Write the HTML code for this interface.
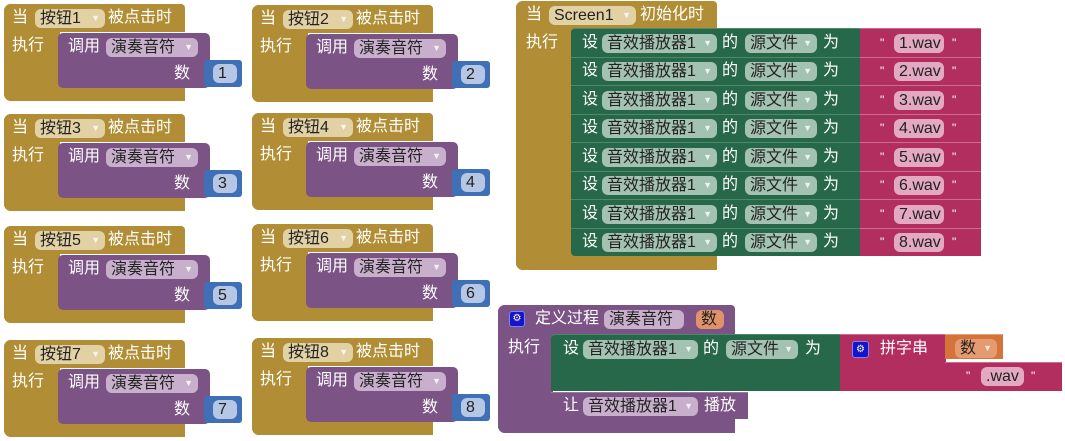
<!DOCTYPE html>
<html><head><meta charset="utf-8"><style>
*{box-sizing:border-box;margin:0;padding:0}
body{width:1065px;height:441px;background:#fff;position:relative;overflow:hidden;font-family:"Liberation Sans","Noto Sans CJK SC",sans-serif;font-size:16px;color:#fff}
.a{position:absolute}
.ev{position:absolute;width:240px;height:100px}
.g{background:#b18e35;position:absolute}
.p{background:#7c5385;position:absolute}
.t{position:absolute;white-space:nowrap;line-height:20px;font-weight:normal}
.pill{position:absolute;border-radius:6px;color:#222;line-height:19px;height:19px;padding-left:5px;white-space:nowrap;font-weight:normal}
.pill i{font-style:normal;font-size:9px;color:#fff;opacity:.8;position:absolute;right:5px;top:0}
.pg{background:#e3d1a6}
.pp{background:#c8b0cc}
.pb{background:#b5c7e5}
.pgr{background:#a3c2b1}
.pk{background:#e3a9c2}
.bl{background:#3f6fb5;position:absolute;border-radius:3px}
.gr{background:#27684a;position:absolute;border-top:1px solid #4c8a6a}
.pkb{background:#b12e5e;position:absolute;border-top:1px solid #cf6a8f}
</style></head><body>

<div class="ev" style="left:4px;top:4px">
<div class="g" style="left:0;top:0;width:181px;height:28px;border-radius:7px 4px 0 0"></div>
<div class="g" style="left:0;top:0;width:56px;height:97px;border-radius:7px 0 0 7px"></div>
<div class="g" style="left:0;top:82px;width:181px;height:15px;border-radius:0 0 0 7px"></div>
<div class="p" style="left:54px;top:29px;width:152px;height:55px;border-radius:5px"></div>
<div class="t" style="left:8px;top:4px">当</div><div class="pill pg" style="left:31px;top:5px;width:70px">按钮1<i>▼</i></div><div class="t" style="left:104px;top:4px">被点击时</div>
<div class="t" style="left:8px;top:32px">执行</div>
<div class="t" style="left:64px;top:33px">调用</div><div class="pill pp" style="left:102px;top:34px;width:92px">演奏音符<i>▼</i></div>
<div class="t" style="left:170px;top:60px">数</div>
<div class="bl" style="left:200px;top:56px;width:38px;height:27px"></div><div class="pill pb" style="left:209px;top:60px;width:24px">1</div>
</div>

<div class="ev" style="left:252px;top:5px">
<div class="g" style="left:0;top:0;width:181px;height:28px;border-radius:7px 4px 0 0"></div>
<div class="g" style="left:0;top:0;width:56px;height:97px;border-radius:7px 0 0 7px"></div>
<div class="g" style="left:0;top:82px;width:181px;height:15px;border-radius:0 0 0 7px"></div>
<div class="p" style="left:54px;top:29px;width:152px;height:55px;border-radius:5px"></div>
<div class="t" style="left:8px;top:4px">当</div><div class="pill pg" style="left:31px;top:5px;width:70px">按钮2<i>▼</i></div><div class="t" style="left:104px;top:4px">被点击时</div>
<div class="t" style="left:8px;top:32px">执行</div>
<div class="t" style="left:64px;top:33px">调用</div><div class="pill pp" style="left:102px;top:34px;width:92px">演奏音符<i>▼</i></div>
<div class="t" style="left:170px;top:60px">数</div>
<div class="bl" style="left:200px;top:56px;width:38px;height:27px"></div><div class="pill pb" style="left:209px;top:60px;width:24px">2</div>
</div>

<div class="ev" style="left:4px;top:114px">
<div class="g" style="left:0;top:0;width:181px;height:28px;border-radius:7px 4px 0 0"></div>
<div class="g" style="left:0;top:0;width:56px;height:97px;border-radius:7px 0 0 7px"></div>
<div class="g" style="left:0;top:82px;width:181px;height:15px;border-radius:0 0 0 7px"></div>
<div class="p" style="left:54px;top:29px;width:152px;height:55px;border-radius:5px"></div>
<div class="t" style="left:8px;top:4px">当</div><div class="pill pg" style="left:31px;top:5px;width:70px">按钮3<i>▼</i></div><div class="t" style="left:104px;top:4px">被点击时</div>
<div class="t" style="left:8px;top:32px">执行</div>
<div class="t" style="left:64px;top:33px">调用</div><div class="pill pp" style="left:102px;top:34px;width:92px">演奏音符<i>▼</i></div>
<div class="t" style="left:170px;top:60px">数</div>
<div class="bl" style="left:200px;top:56px;width:38px;height:27px"></div><div class="pill pb" style="left:209px;top:60px;width:24px">3</div>
</div>

<div class="ev" style="left:252px;top:113px">
<div class="g" style="left:0;top:0;width:181px;height:28px;border-radius:7px 4px 0 0"></div>
<div class="g" style="left:0;top:0;width:56px;height:97px;border-radius:7px 0 0 7px"></div>
<div class="g" style="left:0;top:82px;width:181px;height:15px;border-radius:0 0 0 7px"></div>
<div class="p" style="left:54px;top:29px;width:152px;height:55px;border-radius:5px"></div>
<div class="t" style="left:8px;top:4px">当</div><div class="pill pg" style="left:31px;top:5px;width:70px">按钮4<i>▼</i></div><div class="t" style="left:104px;top:4px">被点击时</div>
<div class="t" style="left:8px;top:32px">执行</div>
<div class="t" style="left:64px;top:33px">调用</div><div class="pill pp" style="left:102px;top:34px;width:92px">演奏音符<i>▼</i></div>
<div class="t" style="left:170px;top:60px">数</div>
<div class="bl" style="left:200px;top:56px;width:38px;height:27px"></div><div class="pill pb" style="left:209px;top:60px;width:24px">4</div>
</div>

<div class="ev" style="left:4px;top:226px">
<div class="g" style="left:0;top:0;width:181px;height:28px;border-radius:7px 4px 0 0"></div>
<div class="g" style="left:0;top:0;width:56px;height:97px;border-radius:7px 0 0 7px"></div>
<div class="g" style="left:0;top:82px;width:181px;height:15px;border-radius:0 0 0 7px"></div>
<div class="p" style="left:54px;top:29px;width:152px;height:55px;border-radius:5px"></div>
<div class="t" style="left:8px;top:4px">当</div><div class="pill pg" style="left:31px;top:5px;width:70px">按钮5<i>▼</i></div><div class="t" style="left:104px;top:4px">被点击时</div>
<div class="t" style="left:8px;top:32px">执行</div>
<div class="t" style="left:64px;top:33px">调用</div><div class="pill pp" style="left:102px;top:34px;width:92px">演奏音符<i>▼</i></div>
<div class="t" style="left:170px;top:60px">数</div>
<div class="bl" style="left:200px;top:56px;width:38px;height:27px"></div><div class="pill pb" style="left:209px;top:60px;width:24px">5</div>
</div>

<div class="ev" style="left:252px;top:224px">
<div class="g" style="left:0;top:0;width:181px;height:28px;border-radius:7px 4px 0 0"></div>
<div class="g" style="left:0;top:0;width:56px;height:97px;border-radius:7px 0 0 7px"></div>
<div class="g" style="left:0;top:82px;width:181px;height:15px;border-radius:0 0 0 7px"></div>
<div class="p" style="left:54px;top:29px;width:152px;height:55px;border-radius:5px"></div>
<div class="t" style="left:8px;top:4px">当</div><div class="pill pg" style="left:31px;top:5px;width:70px">按钮6<i>▼</i></div><div class="t" style="left:104px;top:4px">被点击时</div>
<div class="t" style="left:8px;top:32px">执行</div>
<div class="t" style="left:64px;top:33px">调用</div><div class="pill pp" style="left:102px;top:34px;width:92px">演奏音符<i>▼</i></div>
<div class="t" style="left:170px;top:60px">数</div>
<div class="bl" style="left:200px;top:56px;width:38px;height:27px"></div><div class="pill pb" style="left:209px;top:60px;width:24px">6</div>
</div>

<div class="ev" style="left:4px;top:340px">
<div class="g" style="left:0;top:0;width:181px;height:28px;border-radius:7px 4px 0 0"></div>
<div class="g" style="left:0;top:0;width:56px;height:97px;border-radius:7px 0 0 7px"></div>
<div class="g" style="left:0;top:82px;width:181px;height:15px;border-radius:0 0 0 7px"></div>
<div class="p" style="left:54px;top:29px;width:152px;height:55px;border-radius:5px"></div>
<div class="t" style="left:8px;top:4px">当</div><div class="pill pg" style="left:31px;top:5px;width:70px">按钮7<i>▼</i></div><div class="t" style="left:104px;top:4px">被点击时</div>
<div class="t" style="left:8px;top:32px">执行</div>
<div class="t" style="left:64px;top:33px">调用</div><div class="pill pp" style="left:102px;top:34px;width:92px">演奏音符<i>▼</i></div>
<div class="t" style="left:170px;top:60px">数</div>
<div class="bl" style="left:200px;top:56px;width:38px;height:27px"></div><div class="pill pb" style="left:209px;top:60px;width:24px">7</div>
</div>

<div class="ev" style="left:252px;top:338px">
<div class="g" style="left:0;top:0;width:181px;height:28px;border-radius:7px 4px 0 0"></div>
<div class="g" style="left:0;top:0;width:56px;height:97px;border-radius:7px 0 0 7px"></div>
<div class="g" style="left:0;top:82px;width:181px;height:15px;border-radius:0 0 0 7px"></div>
<div class="p" style="left:54px;top:29px;width:152px;height:55px;border-radius:5px"></div>
<div class="t" style="left:8px;top:4px">当</div><div class="pill pg" style="left:31px;top:5px;width:70px">按钮8<i>▼</i></div><div class="t" style="left:104px;top:4px">被点击时</div>
<div class="t" style="left:8px;top:32px">执行</div>
<div class="t" style="left:64px;top:33px">调用</div><div class="pill pp" style="left:102px;top:34px;width:92px">演奏音符<i>▼</i></div>
<div class="t" style="left:170px;top:60px">数</div>
<div class="bl" style="left:200px;top:56px;width:38px;height:27px"></div><div class="pill pb" style="left:209px;top:60px;width:24px">8</div>
</div>

<div class="g" style="left:516px;top:1px;width:201px;height:28px;border-radius:7px 4px 0 0"></div>
<div class="g" style="left:516px;top:1px;width:56px;height:269px;border-radius:7px 0 0 7px"></div>
<div class="g" style="left:516px;top:255px;width:201px;height:15px;border-radius:0 0 0 7px"></div>
<div class="t" style="left:526px;top:5px">当</div><div class="pill pg" style="left:549px;top:6px;width:87px">Screen1<i>▼</i></div><div class="t" style="left:640px;top:5px">初始化时</div>
<div class="t" style="left:526px;top:33px">执行</div>

<div class="gr" style="left:571px;top:28px;width:290px;height:29px;border-radius:4px 0 0 0"></div><div class="pkb" style="left:860px;top:28px;width:121px;height:29px"></div>
<div class="gr" style="left:571px;top:57px;width:290px;height:28px"></div><div class="pkb" style="left:860px;top:57px;width:121px;height:28px"></div>
<div class="gr" style="left:571px;top:85px;width:290px;height:29px"></div><div class="pkb" style="left:860px;top:85px;width:121px;height:29px"></div>
<div class="gr" style="left:571px;top:114px;width:290px;height:28px"></div><div class="pkb" style="left:860px;top:114px;width:121px;height:28px"></div>
<div class="gr" style="left:571px;top:142px;width:290px;height:29px"></div><div class="pkb" style="left:860px;top:142px;width:121px;height:29px"></div>
<div class="gr" style="left:571px;top:171px;width:290px;height:28px"></div><div class="pkb" style="left:860px;top:171px;width:121px;height:28px"></div>
<div class="gr" style="left:571px;top:199px;width:290px;height:29px"></div><div class="pkb" style="left:860px;top:199px;width:121px;height:29px"></div>
<div class="gr" style="left:571px;top:228px;width:290px;height:28px;border-radius:0 0 0 4px"></div><div class="pkb" style="left:860px;top:228px;width:121px;height:28px"></div>

<div class="t" style="left:582px;top:33px">设</div><div class="pill pgr" style="left:602px;top:34px;width:115px">音效播放器1<i>▼</i></div><div class="t" style="left:722px;top:33px">的</div><div class="pill pgr" style="left:745px;top:34px;width:72px">源文件<i>▼</i></div><div class="t" style="left:823px;top:33px">为</div><div class="t" style="left:880px;top:33px;font-size:12px">"</div><div class="pill pk" style="left:894px;top:34px;width:50px">1.wav</div><div class="t" style="left:952px;top:33px;font-size:12px">"</div>
<div class="t" style="left:582px;top:61px">设</div><div class="pill pgr" style="left:602px;top:62px;width:115px">音效播放器1<i>▼</i></div><div class="t" style="left:722px;top:61px">的</div><div class="pill pgr" style="left:745px;top:62px;width:72px">源文件<i>▼</i></div><div class="t" style="left:823px;top:61px">为</div><div class="t" style="left:880px;top:61px;font-size:12px">"</div><div class="pill pk" style="left:894px;top:62px;width:50px">2.wav</div><div class="t" style="left:952px;top:61px;font-size:12px">"</div>
<div class="t" style="left:582px;top:90px">设</div><div class="pill pgr" style="left:602px;top:91px;width:115px">音效播放器1<i>▼</i></div><div class="t" style="left:722px;top:90px">的</div><div class="pill pgr" style="left:745px;top:91px;width:72px">源文件<i>▼</i></div><div class="t" style="left:823px;top:90px">为</div><div class="t" style="left:880px;top:90px;font-size:12px">"</div><div class="pill pk" style="left:894px;top:91px;width:50px">3.wav</div><div class="t" style="left:952px;top:90px;font-size:12px">"</div>
<div class="t" style="left:582px;top:118px">设</div><div class="pill pgr" style="left:602px;top:119px;width:115px">音效播放器1<i>▼</i></div><div class="t" style="left:722px;top:118px">的</div><div class="pill pgr" style="left:745px;top:119px;width:72px">源文件<i>▼</i></div><div class="t" style="left:823px;top:118px">为</div><div class="t" style="left:880px;top:118px;font-size:12px">"</div><div class="pill pk" style="left:894px;top:119px;width:50px">4.wav</div><div class="t" style="left:952px;top:118px;font-size:12px">"</div>
<div class="t" style="left:582px;top:147px">设</div><div class="pill pgr" style="left:602px;top:148px;width:115px">音效播放器1<i>▼</i></div><div class="t" style="left:722px;top:147px">的</div><div class="pill pgr" style="left:745px;top:148px;width:72px">源文件<i>▼</i></div><div class="t" style="left:823px;top:147px">为</div><div class="t" style="left:880px;top:147px;font-size:12px">"</div><div class="pill pk" style="left:894px;top:148px;width:50px">5.wav</div><div class="t" style="left:952px;top:147px;font-size:12px">"</div>
<div class="t" style="left:582px;top:175px">设</div><div class="pill pgr" style="left:602px;top:176px;width:115px">音效播放器1<i>▼</i></div><div class="t" style="left:722px;top:175px">的</div><div class="pill pgr" style="left:745px;top:176px;width:72px">源文件<i>▼</i></div><div class="t" style="left:823px;top:175px">为</div><div class="t" style="left:880px;top:175px;font-size:12px">"</div><div class="pill pk" style="left:894px;top:176px;width:50px">6.wav</div><div class="t" style="left:952px;top:175px;font-size:12px">"</div>
<div class="t" style="left:582px;top:204px">设</div><div class="pill pgr" style="left:602px;top:205px;width:115px">音效播放器1<i>▼</i></div><div class="t" style="left:722px;top:204px">的</div><div class="pill pgr" style="left:745px;top:205px;width:72px">源文件<i>▼</i></div><div class="t" style="left:823px;top:204px">为</div><div class="t" style="left:880px;top:204px;font-size:12px">"</div><div class="pill pk" style="left:894px;top:205px;width:50px">7.wav</div><div class="t" style="left:952px;top:204px;font-size:12px">"</div>
<div class="t" style="left:582px;top:232px">设</div><div class="pill pgr" style="left:602px;top:233px;width:115px">音效播放器1<i>▼</i></div><div class="t" style="left:722px;top:232px">的</div><div class="pill pgr" style="left:745px;top:233px;width:72px">源文件<i>▼</i></div><div class="t" style="left:823px;top:232px">为</div><div class="t" style="left:880px;top:232px;font-size:12px">"</div><div class="pill pk" style="left:894px;top:233px;width:50px">8.wav</div><div class="t" style="left:952px;top:232px;font-size:12px">"</div>

<div class="p" style="left:498px;top:305px;width:237px;height:30px;border-radius:7px 4px 0 0"></div>
<div class="p" style="left:498px;top:305px;width:55px;height:128px;border-radius:7px 0 0 7px"></div>
<div class="p" style="left:498px;top:418px;width:237px;height:15px;border-radius:0 0 0 7px"></div>
<div class="a" style="left:509px;top:311px;width:16px;height:16px;background:#1414c8;border:1px solid #8080ff;border-radius:3px;font-size:10px;line-height:14px;text-align:center">⚙</div>
<div class="t" style="left:535px;top:309px">定义过程</div><div class="pill pp" style="left:604px;top:310px;width:80px">演奏音符</div><div class="pill" style="left:696px;top:310px;width:28px;background:#e0936a;color:#222">数</div>
<div class="t" style="left:508px;top:338px">执行</div>
<div class="gr" style="left:551px;top:334px;width:290px;height:57px;border-radius:4px 0 0 0"></div>
<div class="pkb" style="left:840px;top:334px;width:106px;height:57px"></div>
<div class="a" style="left:945px;top:334px;width:58px;height:25px;background:#d4733a;border-top:1px solid #e8a07a"></div>
<div class="pkb" style="left:945px;top:362px;width:117px;height:29px"></div>
<div class="t" style="left:563px;top:339px">设</div><div class="pill pgr" style="left:583px;top:340px;width:115px">音效播放器1<i>▼</i></div><div class="t" style="left:703px;top:339px">的</div><div class="pill pgr" style="left:726px;top:340px;width:72px">源文件<i>▼</i></div><div class="t" style="left:805px;top:339px">为</div>
<div class="a" style="left:852px;top:341px;width:17px;height:17px;background:#1414c8;border:1px solid #8080ff;border-radius:3px;font-size:10px;line-height:15px;text-align:center">⚙</div>
<div class="t" style="left:880px;top:339px">拼字串</div>
<div class="pill" style="left:955px;top:339px;width:42px;background:#e59a6f;color:#222">数<i>▼</i></div>
<div class="t" style="left:966px;top:366px;font-size:12px">"</div><div class="pill pk" style="left:981px;top:367px;width:43px">.wav</div><div class="t" style="left:1031px;top:366px;font-size:12px">"</div>
<div class="p" style="left:551px;top:392px;width:197px;height:27px;border-radius:0 0 0 5px;border-top:1px solid #9a78a3"></div>
<div class="t" style="left:563px;top:396px">让</div><div class="pill pp" style="left:583px;top:397px;width:115px">音效播放器1<i>▼</i></div><div class="t" style="left:704px;top:396px">播放</div>
</body></html>
